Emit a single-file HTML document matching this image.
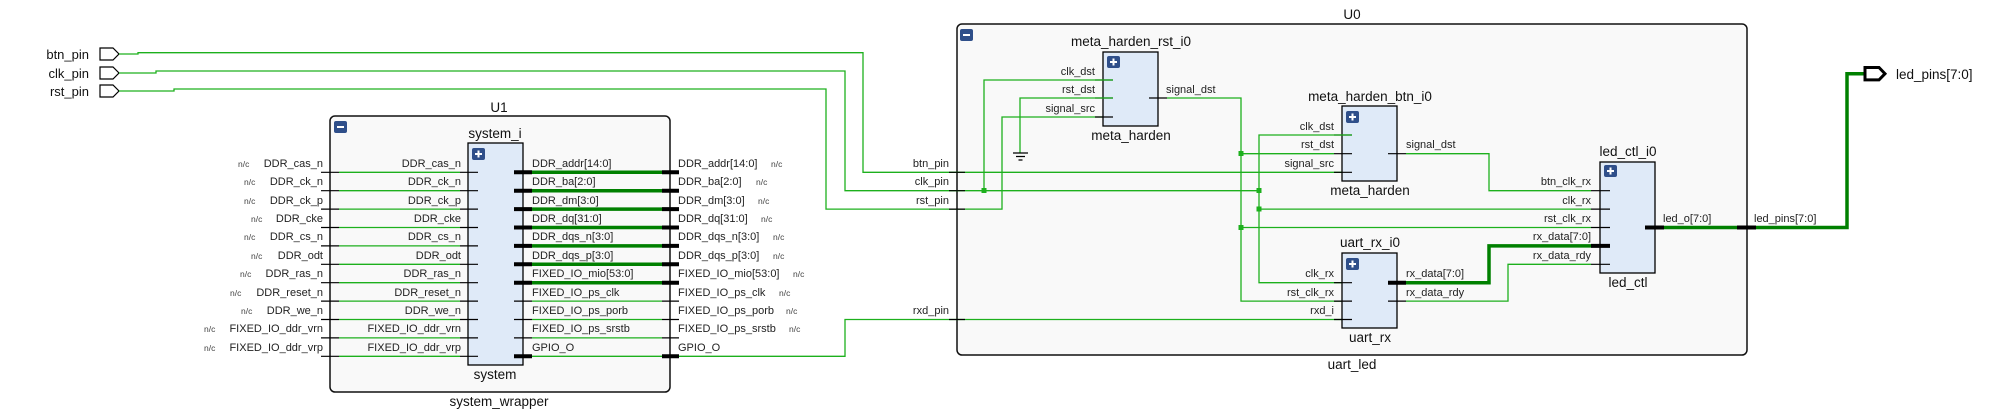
<!DOCTYPE html>
<html><head><meta charset="utf-8"><style>
html,body{margin:0;padding:0;background:#fff;}
svg{display:block;font-family:"Liberation Sans",Arial,sans-serif;}
.p{font-size:11px;fill:#222;}
.t{font-size:13.5px;fill:#111;}
.nc{font-size:8.5px;fill:#444;}
.g{stroke:#1db01d;stroke-width:1.3;fill:none;}
.G{stroke:#008000;stroke-width:3.5;fill:none;}
.k{stroke:#000;stroke-width:1.2;fill:none;}
.K{stroke:#000;stroke-width:4;fill:none;}
.box{fill:#dfeaf8;stroke:#000;stroke-width:1.3;}
.hier{fill:#f9f9f9;stroke:#111;stroke-width:1.5;}
</style></head><body>
<svg width="2000" height="418" viewBox="0 0 2000 418" xmlns="http://www.w3.org/2000/svg">
<defs>
<g id="plus"><rect x="0" y="0" width="13" height="12" rx="2" fill="#2f4f8a"/><path d="M6.5 2.5v7M3 6h7" stroke="#fff" stroke-width="2"/></g>
<g id="minus"><rect x="0" y="0" width="13" height="12" rx="2" fill="#2f4f8a"/><path d="M3 6h7" stroke="#fff" stroke-width="2"/></g>
</defs>

<g stroke="#000" stroke-width="1.2" fill="#fff">
<path d="M100 48h13l6 6-6 6h-13z"/>
<path d="M100 67h13l6 6-6 6h-13z"/>
<path d="M100 85h13l6 6-6 6h-13z"/>
</g>
<text class="t" x="89" y="59" text-anchor="end" style="font-size:13px">btn_pin</text>
<text class="t" x="89" y="78" text-anchor="end" style="font-size:13px">clk_pin</text>
<text class="t" x="89" y="96" text-anchor="end" style="font-size:13px">rst_pin</text>

<text class="t" x="499" y="112" text-anchor="middle">U1</text>
<rect class="hier" x="330" y="116" width="340" height="276" rx="5"/>
<use href="#minus" x="334" y="121"/>
<text class="t" x="495" y="138" text-anchor="middle">system_i</text>
<rect class="box" x="468" y="143" width="55" height="222"/>
<use href="#plus" x="472" y="148"/>
<text class="t" x="495" y="379" text-anchor="middle">system</text>
<text class="t" x="499" y="406" text-anchor="middle">system_wrapper</text>

<g>
<path class="k" d="M321 172.3h18M460 172.3h18M321 190.7h18M460 190.7h18M321 209.1h18M460 209.1h18M321 227.5h18M460 227.5h18M321 245.9h18M460 245.9h18M321 264.3h18M460 264.3h18M321 282.7h18M460 282.7h18M321 301.1h18M460 301.1h18M321 319.5h18M460 319.5h18M321 337.9h18M460 337.9h18M321 356.3h18M460 356.3h18"/>
<path class="g" d="M339 172.3h121M339 190.7h121M339 209.1h121M339 227.5h121M339 245.9h121M339 264.3h121M339 282.7h121M339 301.1h121M339 319.5h121M339 337.9h121M339 356.3h121"/>
</g>
<g class="p" text-anchor="end">
<text x="323" y="167">DDR_cas_n</text><text x="461" y="167">DDR_cas_n</text>
<text x="323" y="185">DDR_ck_n</text><text x="461" y="185">DDR_ck_n</text>
<text x="323" y="204">DDR_ck_p</text><text x="461" y="204">DDR_ck_p</text>
<text x="323" y="222">DDR_cke</text><text x="461" y="222">DDR_cke</text>
<text x="323" y="240">DDR_cs_n</text><text x="461" y="240">DDR_cs_n</text>
<text x="323" y="259">DDR_odt</text><text x="461" y="259">DDR_odt</text>
<text x="323" y="277">DDR_ras_n</text><text x="461" y="277">DDR_ras_n</text>
<text x="323" y="296">DDR_reset_n</text><text x="461" y="296">DDR_reset_n</text>
<text x="323" y="314">DDR_we_n</text><text x="461" y="314">DDR_we_n</text>
<text x="323" y="332">FIXED_IO_ddr_vrn</text><text x="461" y="332">FIXED_IO_ddr_vrn</text>
<text x="323" y="351">FIXED_IO_ddr_vrp</text><text x="461" y="351">FIXED_IO_ddr_vrp</text>
</g>
<g class="nc">
<text x="238" y="167">n/c</text><text x="244" y="185">n/c</text><text x="244" y="204">n/c</text>
<text x="251" y="222">n/c</text><text x="244" y="240">n/c</text><text x="251" y="259">n/c</text>
<text x="240" y="277">n/c</text><text x="230" y="296">n/c</text><text x="241" y="314">n/c</text>
<text x="204" y="332">n/c</text><text x="204" y="351">n/c</text>
</g>

<path class="G" d="M532 172.3h130M532 190.7h130M532 209.1h130M532 227.5h130M532 245.9h130M532 264.3h130M532 282.7h130"/>
<path class="K" d="M514 172.3h18M662 172.3h17M514 190.7h18M662 190.7h17M514 209.1h18M662 209.1h17M514 227.5h18M662 227.5h17M514 245.9h18M662 245.9h17M514 264.3h18M662 264.3h17M514 282.7h18M662 282.7h17M514 356.3h18M662 356.3h17"/>
<path class="k" d="M514 301.1h18M662 301.1h17M514 319.5h18M662 319.5h17M514 337.9h18M662 337.9h17"/>
<path class="g" d="M532 301.1h130M532 319.5h130M532 337.9h130M532 356.3h130"/>
<g class="p">
<text x="532" y="167">DDR_addr[14:0]</text><text x="678" y="167">DDR_addr[14:0]</text>
<text x="532" y="185">DDR_ba[2:0]</text><text x="678" y="185">DDR_ba[2:0]</text>
<text x="532" y="204">DDR_dm[3:0]</text><text x="678" y="204">DDR_dm[3:0]</text>
<text x="532" y="222">DDR_dq[31:0]</text><text x="678" y="222">DDR_dq[31:0]</text>
<text x="532" y="240">DDR_dqs_n[3:0]</text><text x="678" y="240">DDR_dqs_n[3:0]</text>
<text x="532" y="259">DDR_dqs_p[3:0]</text><text x="678" y="259">DDR_dqs_p[3:0]</text>
<text x="532" y="277">FIXED_IO_mio[53:0]</text><text x="678" y="277">FIXED_IO_mio[53:0]</text>
<text x="532" y="296">FIXED_IO_ps_clk</text><text x="678" y="296">FIXED_IO_ps_clk</text>
<text x="532" y="314">FIXED_IO_ps_porb</text><text x="678" y="314">FIXED_IO_ps_porb</text>
<text x="532" y="332">FIXED_IO_ps_srstb</text><text x="678" y="332">FIXED_IO_ps_srstb</text>
<text x="532" y="351">GPIO_O</text><text x="678" y="351">GPIO_O</text>
</g>
<g class="nc">
<text x="771" y="167">n/c</text><text x="756" y="185">n/c</text><text x="758" y="204">n/c</text>
<text x="761" y="222">n/c</text><text x="773" y="240">n/c</text><text x="773" y="259">n/c</text>
<text x="793" y="277">n/c</text><text x="779" y="296">n/c</text><text x="786" y="314">n/c</text>
<text x="789" y="332">n/c</text>
</g>

<text class="t" x="1352" y="19" text-anchor="middle">U0</text>
<rect class="hier" x="957" y="24" width="790" height="331" rx="5"/>
<use href="#minus" x="960" y="29"/>
<text class="t" x="1352" y="369" text-anchor="middle">uart_led</text>

<path class="g" d="M119 54H138V52.7H863V172.3H1352"/>
<path class="g" d="M119 73H156V71H845V190.7H1259"/>
<path class="g" d="M119 91H174V89H826V209.1H1002V117H1113"/>
<path class="g" d="M679 356.3H845V319.5H1352"/>
<path class="k" d="M949 172.3h16M949 190.7h16M949 209.1h16M949 319.5h16"/>
<g class="p" text-anchor="end">
<text x="949" y="167">btn_pin</text><text x="949" y="185">clk_pin</text><text x="949" y="204">rst_pin</text><text x="949" y="314">rxd_pin</text>
</g>

<text class="t" x="1131" y="46" text-anchor="middle">meta_harden_rst_i0</text>
<rect class="box" x="1103" y="52" width="55" height="74"/>
<use href="#plus" x="1107" y="56"/>
<text class="t" x="1131" y="140" text-anchor="middle">meta_harden</text>
<g class="p" text-anchor="end"><text x="1095" y="75">clk_dst</text><text x="1095" y="93">rst_dst</text><text x="1095" y="112">signal_src</text></g>
<text class="p" x="1166" y="93">signal_dst</text>
<path class="k" d="M1095 80h18M1095 98h18M1095 117h18M1149 98h18"/>
<path class="g" d="M1113 80H984V190.7"/>
<path class="g" d="M1113 98H1020V153"/>
<path class="k" d="M1013 153h15M1016 156.5h9M1018.5 160h4"/>
<path class="g" d="M1167 98H1241V301.1H1352"/>

<text class="t" x="1370" y="101" text-anchor="middle">meta_harden_btn_i0</text>
<rect class="box" x="1342" y="106" width="55" height="75"/>
<use href="#plus" x="1346" y="111"/>
<text class="t" x="1370" y="195" text-anchor="middle">meta_harden</text>
<g class="p" text-anchor="end"><text x="1334" y="130">clk_dst</text><text x="1334" y="148">rst_dst</text><text x="1334" y="167">signal_src</text></g>
<text class="p" x="1406" y="148">signal_dst</text>
<path class="k" d="M1334 135h18M1334 153.7h18M1334 172.3h18M1388 153.7h18"/>
<path class="g" d="M1352 135H1259V282.7H1352"/>
<path class="g" d="M1241 153.7H1334"/>
<path class="g" d="M1406 153.7H1489V190.7H1591"/>
<path class="g" d="M1259 209.1H1591M1241 227.5H1591"/>

<text class="t" x="1370" y="247" text-anchor="middle">uart_rx_i0</text>
<rect class="box" x="1342" y="253" width="55" height="75"/>
<use href="#plus" x="1346" y="258"/>
<text class="t" x="1370" y="342" text-anchor="middle">uart_rx</text>
<g class="p" text-anchor="end"><text x="1334" y="277">clk_rx</text><text x="1334" y="296">rst_clk_rx</text><text x="1334" y="314">rxd_i</text></g>
<g class="p"><text x="1406" y="277">rx_data[7:0]</text><text x="1406" y="296">rx_data_rdy</text></g>
<path class="k" d="M1334 282.7h18M1334 301.1h18M1334 319.5h18M1388 301.1h18"/>
<path class="K" d="M1388 282.7h18"/>
<path class="G" d="M1406 282.7H1489V245.9H1591"/>
<path class="g" d="M1406 301.1H1508V264.3H1591"/>

<text class="t" x="1628" y="156" text-anchor="middle">led_ctl_i0</text>
<rect class="box" x="1600" y="162" width="55" height="111"/>
<use href="#plus" x="1604" y="165"/>
<text class="t" x="1628" y="287" text-anchor="middle">led_ctl</text>
<g class="p" text-anchor="end">
<text x="1591" y="185">btn_clk_rx</text><text x="1591" y="204">clk_rx</text><text x="1591" y="222">rst_clk_rx</text><text x="1591" y="240">rx_data[7:0]</text><text x="1591" y="259">rx_data_rdy</text>
</g>
<path class="k" d="M1591 190.7h19M1591 209.1h19M1591 227.5h19M1591 264.3h19"/>
<path class="K" d="M1591 245.9h19"/>
<text class="p" x="1663" y="222">led_o[7:0]</text>
<text class="p" x="1754" y="222">led_pins[7:0]</text>
<path class="G" d="M1664 227.5H1737M1756 227.5H1847V73.7H1865"/>
<path class="K" d="M1645 227.5h19M1737 227.5h19"/>
<path d="M1865 67.5h14l6 6.2-6 6.2h-14z" fill="#fff" stroke="#000" stroke-width="3"/>
<text class="t" x="1896" y="79">led_pins[7:0]</text>

<g fill="#1db01d">
<rect x="981.5" y="188" width="5" height="5"/>
<rect x="1238.5" y="151" width="5" height="5"/>
<rect x="1238.5" y="225" width="5" height="5"/>
<rect x="1256.5" y="188" width="5" height="5"/>
<rect x="1256.5" y="206.5" width="5" height="5"/>
</g>
</svg>
</body></html>
